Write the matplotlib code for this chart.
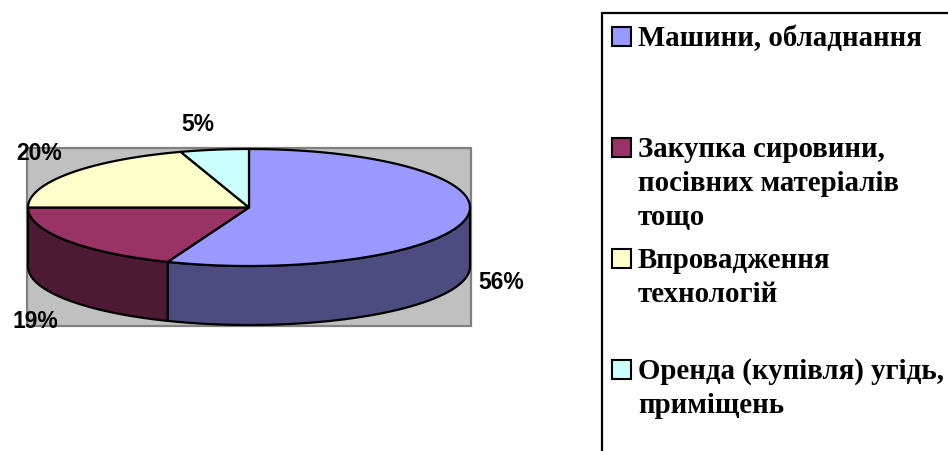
#!/usr/bin/env python3
"""3D pie (Excel style) of investment directions, with a boxed legend on the right."""
import numpy as np
import matplotlib
matplotlib.use('Agg')
import matplotlib.pyplot as plt
from matplotlib.patches import Polygon, Rectangle

# ── data ──────────────────────────────────────────────────────────────
categories = ['Машини, обладнання',
              'Закупка сировини, посівних матеріалів тощо',
              'Впровадження технологій',
              'Оренда (купівля) угідь, приміщень']
legend_lines = [['Машини, обладнання'],
                ['Закупка сировини,', 'посівних матеріалів', 'тощо'],
                ['Впровадження', 'технологій'],
                ['Оренда (купівля) угідь,', 'приміщень']]
shares = [56, 19, 20, 5]

# ── style ─────────────────────────────────────────────────────────────
TOP = ['#9999ff', '#993366', '#ffffcc', '#ccffff']
SIDE = ['#4c4c80', '#4d1a33', '#808066', '#668080']
PLOT_BG, PLOT_EDGE = '#c0c0c0', '#808080'
W, H = 948, 451
CX, CY, RX, RY, DEPTH = 249, 207.5, 221, 58.5, 59
# label offset (px) from the rim point at each slice's mid angle
LABEL_OFF = [(35, 5.5), (-31, 22.5), (-31, -19.5), (-17, -25.7)]

fig = plt.figure(figsize=(W / 100, H / 100), dpi=100)
ax = fig.add_axes([0, 0, 1, 1])
ax.set_xlim(0, W)
ax.set_ylim(H, 0)
ax.axis('off')


def rim(t0, t1, n=160):
    t = np.radians(np.linspace(t0, t1, n))
    return np.column_stack([CX + RX * np.cos(t), CY - RY * np.sin(t)])


# plot area
ax.add_patch(Rectangle((CX - RX - 1, CY - RY - 1), 2 * RX + 2, 2 * RY + DEPTH + 2,
                       facecolor=PLOT_BG, edgecolor=PLOT_EDGE, lw=1.6, zorder=0))

total = sum(shares)
cum = np.concatenate([[0], np.cumsum(shares)]) / total
starts = 90 - 360 * cum[:-1]
ends = 90 - 360 * cum[1:]

# side walls (only the front half, -180..0 deg, is visible)
for i, (t0, t1) in enumerate(zip(starts, ends)):
    hi, lo = min(t0, 0), max(t1, -180)
    if lo >= hi:
        continue
    top = rim(hi, lo)
    bot = top[::-1] + [0, DEPTH]
    ax.add_patch(Polygon(np.vstack([top, bot]), closed=True, facecolor=SIDE[i],
                         edgecolor='black', lw=1.6, joinstyle='round', zorder=2))

# top face
for i, (t0, t1) in enumerate(zip(starts, ends)):
    pts = np.vstack([[CX, CY], rim(t0, t1)])
    ax.add_patch(Polygon(pts, closed=True, facecolor=TOP[i], edgecolor='black',
                         lw=1.6, joinstyle='round', zorder=3))

# percentage labels
for i, (t0, t1) in enumerate(zip(starts, ends)):
    m = np.radians((t0 + t1) / 2)
    x = CX + RX * np.cos(m)
    y = CY - RY * np.sin(m) + (DEPTH if np.sin(m) < 0 else 0)
    dx, dy = LABEL_OFF[i]
    ax.text(x + dx, y + dy, f'{round(100 * shares[i] / total)}%', ha='center', va='center',
            fontsize=16.5, fontweight='bold', family='Liberation Sans', color='black', zorder=5)

# legend box (runs off the right and bottom edges, as in the original)
LX, LY = 602, 13
ax.add_patch(Rectangle((LX, LY), 400, 500, facecolor='white', edgecolor='black',
                       lw=1.6, zorder=4))
for i, lines in enumerate(legend_lines):
    base = 46 + 111 * i
    ax.add_patch(Rectangle((612, base - 19), 19, 19, facecolor=TOP[i],
                           edgecolor='black', lw=1.5, zorder=5))
    for j, line in enumerate(lines):
        ax.text(638, base + 34 * j, line, ha='left', va='baseline', fontsize=20.8,
                fontweight='bold', family='Liberation Serif', color='black', zorder=5)

fig.savefig('out.png', dpi=100, facecolor='white')
